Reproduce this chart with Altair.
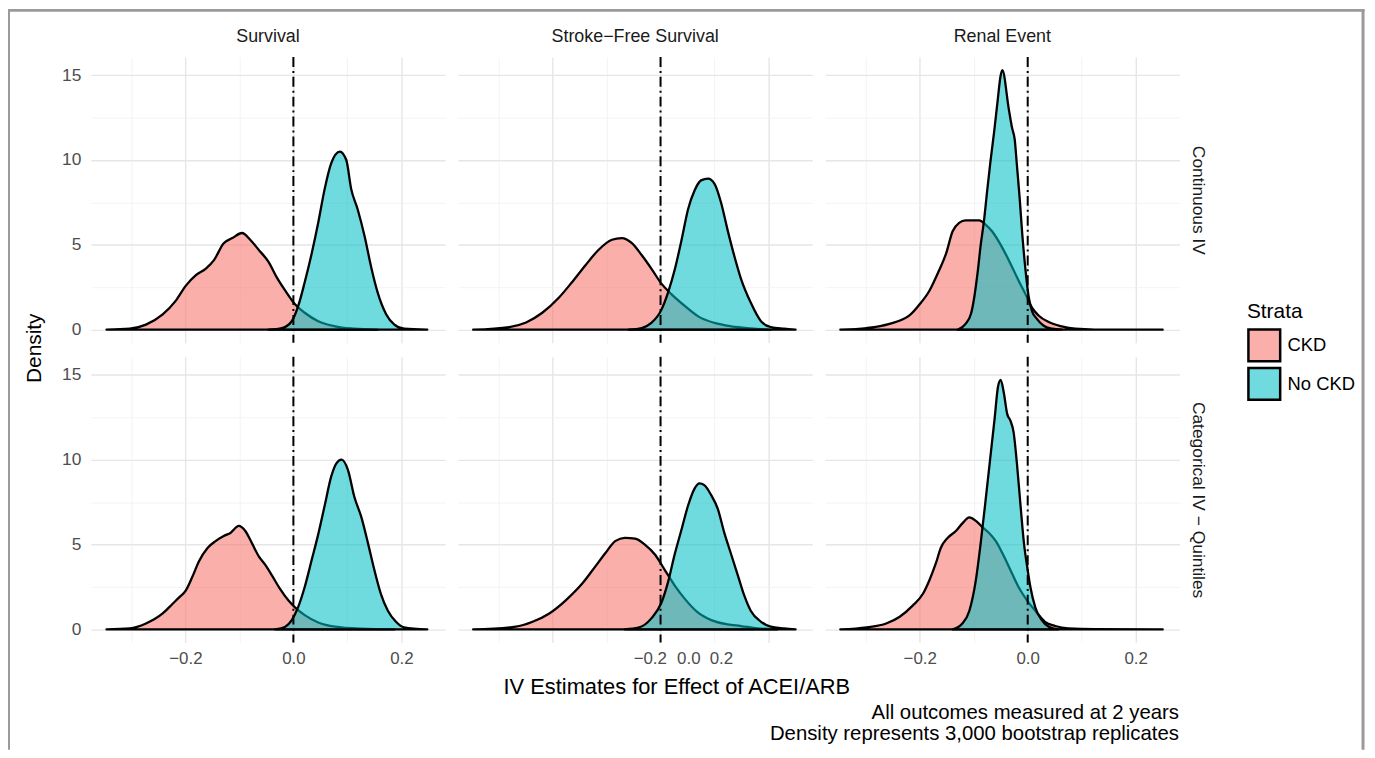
import altair as alt
import pandas as pd

# ---------------- data ----------------
OUTCOMES = ["Survival", "Stroke−Free Survival", "Renal Event"]
MODELS = ["Continuous IV", "Categorical IV − Quintiles"]
STRATA = ["CKD", "No CKD"]
STRATA_COLORS = ["rgba(248,118,109,0.58)", "rgba(0,191,196,0.56)"]

X_TICKS = [-0.3, -0.2, -0.1, 0.0, 0.1, 0.2]
Y_TICKS = [0, 2.5, 5, 7.5, 10, 12.5, 15]
X_DOMAIN = [-0.375, 0.281]
Y_DOMAIN = [-0.77, 16.07]
REF_LINE = [0.0]
X_TITLE = "IV Estimates for Effect of ACEI/ARB"
Y_TITLE = "Density"
LEGEND_TITLE = "Strata"
CAPTION = ["All outcomes measured at 2 years",
           "Density represents 3,000 bootstrap replicates"]

# Survival, Continuous IV
SURV_CONT_CKD_X = [-0.346, -0.303, -0.273, -0.242, -0.218, -0.199, -0.181, -0.162, -0.147, -0.129, -0.113, -0.095,
                   -0.080, -0.064, -0.046, -0.031, -0.015, 0.003, 0.021, 0.046, 0.077, 0.113, 0.156]
SURV_CONT_CKD_Y = [0, 0.06, 0.3, 0.9, 1.7, 2.6, 3.2, 3.6, 4.1, 5.1, 5.4, 5.7,
                   5.3, 4.7, 4.0, 3.1, 2.3, 1.5, 1.0, 0.5, 0.2, 0.06, 0]
SURV_CONT_NO_X = [-0.046, -0.021, -0.003, 0.009, 0.021, 0.034, 0.046, 0.058, 0.070, 0.086, 0.098, 0.107,
                  0.119, 0.132, 0.144, 0.156, 0.172, 0.187, 0.205, 0.248]
SURV_CONT_NO_Y = [0, 0.1, 0.5, 1.4, 2.8, 4.5, 6.3, 8.3, 9.8, 10.5, 10.0, 8.3,
                  7.1, 5.5, 3.7, 2.2, 0.9, 0.3, 0.06, 0]

# Stroke-Free Survival, Continuous IV
STRK_CONT_CKD_X = [-0.347, -0.280, -0.249, -0.219, -0.188, -0.164, -0.139, -0.115, -0.090, -0.072, -0.053,
                   -0.035, -0.017, 0.002, 0.020, 0.045, 0.069, 0.100, 0.131, 0.167, 0.204]
STRK_CONT_CKD_Y = [0, 0.16, 0.43, 1.0, 1.9, 2.8, 3.8, 4.7, 5.3, 5.4, 5.1,
                   4.4, 3.6, 2.7, 2.1, 1.4, 0.8, 0.4, 0.2, 0.08, 0]
STRK_CONT_NO_X = [-0.059, -0.035, -0.017, 0.002, 0.014, 0.026, 0.039, 0.051, 0.063, 0.075, 0.088,
                  0.100, 0.112, 0.124, 0.137, 0.149, 0.167, 0.186, 0.204, 0.229, 0.250]
STRK_CONT_NO_Y = [0, 0.1, 0.4, 1.2, 2.2, 3.5, 5.3, 7.1, 8.2, 8.8, 8.9,
                  8.6, 7.5, 5.9, 4.3, 3.0, 1.6, 0.5, 0.16, 0.06, 0]

# Renal Event, Continuous IV
RENAL_CONT_CKD_X = [-0.347, -0.298, -0.256, -0.219, -0.200, -0.182, -0.164, -0.151, -0.139, -0.127, -0.115,
                    -0.090, -0.078, -0.066, -0.050, -0.035, -0.017, -0.001, 0.008, 0.020, 0.039, 0.063,
                    0.088, 0.124, 0.250]
RENAL_CONT_CKD_Y = [0, 0.1, 0.35, 0.84, 1.5, 2.3, 3.5, 4.5, 5.8, 6.3, 6.45,
                    6.45, 6.2, 5.8, 5.0, 4.1, 2.9, 1.9, 1.3, 0.84, 0.45, 0.2,
                    0.06, 0.01, 0]
RENAL_CONT_NO_X = [-0.130, -0.115, -0.105, -0.099, -0.093, -0.087, -0.081, -0.075, -0.069, -0.062, -0.056,
                   -0.050, -0.047, -0.035, -0.029, -0.024, -0.020, -0.015, -0.010, -0.004, 0.002, 0.008,
                   0.017, 0.029, 0.045, 0.063]
RENAL_CONT_NO_Y = [0, 0.35, 0.94, 1.9, 3.3, 5.0, 6.4, 8.2, 9.9, 11.7, 13.4,
                   15.0, 15.3, 13.0, 11.9, 11.2, 9.7, 7.8, 5.6, 3.5, 1.9, 1.1,
                   0.64, 0.25, 0.06, 0]

# Survival, Categorical IV - Quintiles
SURV_CAT_CKD_X = [-0.346, -0.303, -0.273, -0.242, -0.224, -0.211, -0.199, -0.187, -0.175, -0.159, -0.144,
                  -0.129, -0.116, -0.101, -0.089, -0.077, -0.064, -0.052, -0.040, -0.025, -0.009, 0.003,
                  0.021, 0.046, 0.077, 0.126, 0.187]
SURV_CAT_CKD_Y = [0, 0.06, 0.35, 0.94, 1.5, 1.9, 2.3, 3.1, 4.0, 4.8, 5.2,
                  5.5, 5.7, 6.1, 5.8, 5.1, 4.3, 3.8, 3.2, 2.4, 1.7, 1.3,
                  0.84, 0.41, 0.16, 0.04, 0]
SURV_CAT_NO_X = [-0.034, -0.015, -0.003, 0.009, 0.021, 0.034, 0.046, 0.058, 0.070, 0.080, 0.089,
                 0.101, 0.113, 0.126, 0.138, 0.150, 0.162, 0.175, 0.190, 0.205, 0.248]
SURV_CAT_NO_Y = [0, 0.16, 0.55, 1.33, 2.5, 4.1, 5.6, 7.3, 9.0, 9.8, 10.0,
                 9.4, 7.8, 6.6, 5.1, 3.5, 2.1, 1.1, 0.45, 0.12, 0]

# Stroke-Free Survival, Categorical IV - Quintiles
STRK_CAT_CKD_X = [-0.347, -0.268, -0.237, -0.206, -0.176, -0.145, -0.121, -0.102, -0.084, -0.066, -0.047,
                  -0.029, -0.010, 0.008, 0.026, 0.045, 0.069, 0.094, 0.124, 0.149, 0.180, 0.216]
STRK_CAT_CKD_Y = [0, 0.16, 0.45, 0.94, 1.7, 2.7, 3.7, 4.5, 5.2, 5.4, 5.35,
                  5.0, 4.4, 3.5, 2.6, 1.8, 1.0, 0.55, 0.3, 0.2, 0.06, 0]
STRK_CAT_NO_X = [-0.066, -0.041, -0.017, 0.002, 0.014, 0.026, 0.039, 0.051, 0.063, 0.072, 0.081,
                 0.094, 0.106, 0.118, 0.131, 0.143, 0.155, 0.167, 0.186, 0.204, 0.229, 0.250]
STRK_CAT_NO_Y = [0, 0.1, 0.65, 1.6, 2.8, 4.4, 5.9, 7.3, 8.3, 8.6, 8.5,
                 7.9, 7.1, 5.7, 4.4, 3.2, 2.0, 1.1, 0.45, 0.16, 0.06, 0]

# Renal Event, Categorical IV - Quintiles
RENAL_CAT_CKD_X = [-0.347, -0.298, -0.262, -0.237, -0.213, -0.194, -0.182, -0.170, -0.161, -0.148, -0.133,
                   -0.121, -0.108, -0.096, -0.083, -0.072, -0.059, -0.047, -0.032, -0.017, -0.001, 0.014,
                   0.032, 0.051, 0.075, 0.124, 0.250]
RENAL_CAT_CKD_Y = [0, 0.12, 0.35, 0.75, 1.4, 2.1, 2.9, 3.9, 4.8, 5.4, 5.8,
                   6.25, 6.6, 6.4, 6.0, 5.7, 5.2, 4.5, 3.5, 2.5, 1.7, 1.1,
                   0.45, 0.2, 0.06, 0.01, 0]
RENAL_CAT_NO_X = [-0.139, -0.121, -0.108, -0.096, -0.087, -0.078, -0.069, -0.061, -0.055, -0.050, -0.044,
                  -0.038, -0.032, -0.026, -0.020, -0.013, -0.007, -0.001, 0.005, 0.014, 0.026, 0.039, 0.057]
RENAL_CAT_NO_Y = [0, 0.35, 1.1, 2.9, 5.1, 7.6, 10.2, 12.5, 14.3, 14.7, 13.9,
                  12.7, 12.3, 11.6, 9.8, 7.2, 5.1, 3.7, 2.5, 1.3, 0.55, 0.16, 0]

CURVES = {
    (OUTCOMES[0], MODELS[0], STRATA[0]): (SURV_CONT_CKD_X, SURV_CONT_CKD_Y),
    (OUTCOMES[0], MODELS[0], STRATA[1]): (SURV_CONT_NO_X, SURV_CONT_NO_Y),
    (OUTCOMES[1], MODELS[0], STRATA[0]): (STRK_CONT_CKD_X, STRK_CONT_CKD_Y),
    (OUTCOMES[1], MODELS[0], STRATA[1]): (STRK_CONT_NO_X, STRK_CONT_NO_Y),
    (OUTCOMES[2], MODELS[0], STRATA[0]): (RENAL_CONT_CKD_X, RENAL_CONT_CKD_Y),
    (OUTCOMES[2], MODELS[0], STRATA[1]): (RENAL_CONT_NO_X, RENAL_CONT_NO_Y),
    (OUTCOMES[0], MODELS[1], STRATA[0]): (SURV_CAT_CKD_X, SURV_CAT_CKD_Y),
    (OUTCOMES[0], MODELS[1], STRATA[1]): (SURV_CAT_NO_X, SURV_CAT_NO_Y),
    (OUTCOMES[1], MODELS[1], STRATA[0]): (STRK_CAT_CKD_X, STRK_CAT_CKD_Y),
    (OUTCOMES[1], MODELS[1], STRATA[1]): (STRK_CAT_NO_X, STRK_CAT_NO_Y),
    (OUTCOMES[2], MODELS[1], STRATA[0]): (RENAL_CAT_CKD_X, RENAL_CAT_CKD_Y),
    (OUTCOMES[2], MODELS[1], STRATA[1]): (RENAL_CAT_NO_X, RENAL_CAT_NO_Y),
}

rows = []
for (o, m, s), (xs, ys) in CURVES.items():
    for xv, yv in zip(xs, ys):
        rows.append({"outcome": o, "model": m, "strata": s, "x": xv, "density": yv})
df = pd.DataFrame(rows)
ref_df = pd.DataFrame({"x": REF_LINE})

# ---------------- styling ----------------
FONT = "Liberation Sans"
W, H = 357, 288
GRID_MAJOR = "#E6E6E6"
GRID_MINOR = "#F0F0F0"
FRAME = "#9A9A9A"
X_MAJOR_TEST = "abs(datum.value) < 0.001 || abs(abs(datum.value) - 0.2) < 0.001"
Y_MAJOR_TEST = "datum.value % 5 === 0"

LEGEND = alt.Legend(
    orient="none", legendX=1165, legendY=246,
    title=LEGEND_TITLE, titleFontSize=21, titleFontWeight="normal", titleColor="black", titleFont=FONT,
    titlePadding=6, labelFontSize=18.5, labelColor="black", labelFont=FONT, labelOffset=6,
    symbolType="square", symbolSize=1024, symbolStrokeColor="black", symbolStrokeWidth=2.5,
    symbolOpacity=1, rowPadding=-7,
)


def x_axis(ci, ri):
    bottom = ri == 1
    kw = dict(
        values=X_TICKS, domain=False, ticks=False, tickSize=0, grid=True,
        gridColor={"condition": {"test": X_MAJOR_TEST, "value": GRID_MAJOR}, "value": GRID_MINOR},
        gridWidth={"condition": {"test": X_MAJOR_TEST, "value": 1.4}, "value": 0.8},
        labels=bottom, format=".1f",
        labelExpr="(" + X_MAJOR_TEST + ") ? datum.label : ''",
        labelFontSize=17, labelColor="#4D4D4D", labelFont=FONT, labelPadding=8,
        labelOverlap=False, labelFlush=False, title=None,
    )
    if bottom and ci == 1:
        kw["labelOffset"] = {"condition": [{"test": "datum.value < -0.1", "value": 98},
                                           {"test": "datum.value > 0.1", "value": -48}],
                             "value": 28}
        kw.update(title=X_TITLE, titleX=220, titleY=51, titleAlign="center", titleBaseline="alphabetic",
                  titleFontSize=22, titleFontWeight="normal", titleColor="black", titleFont=FONT)
    if bottom and ci == 2:
        kw.update(title=CAPTION, titleX=356, titleY=77, titleAlign="right", titleBaseline="alphabetic",
                  titleFontSize=20.5, titleLineHeight=21, titleFontWeight="normal", titleColor="black",
                  titleFont=FONT)
    return alt.Axis(**kw)


def y_axis(ci, ri):
    kw = dict(
        values=Y_TICKS, domain=False, ticks=False, tickSize=0, grid=True,
        gridColor={"condition": {"test": Y_MAJOR_TEST, "value": GRID_MAJOR}, "value": GRID_MINOR},
        gridWidth={"condition": {"test": Y_MAJOR_TEST, "value": 1.4}, "value": 0.8},
        labels=ci == 0,
        labelExpr="(" + Y_MAJOR_TEST + ") ? format(datum.value, 'd') : ''",
        labelFontSize=17.5, labelColor="#4D4D4D", labelFont=FONT, labelPadding=10,
        labelOverlap=False, labelFlush=False, title=None,
    )
    if ci == 0 and ri == 1:
        kw.update(title=Y_TITLE, titleX=-51, titleY=-9, titleAngle=270, titleAlign="center",
                  titleBaseline="alphabetic", titleFontSize=21, titleFontWeight="normal",
                  titleColor="black", titleFont=FONT)
    if ci == 2:
        kw.update(orient="right", title=MODELS[ri], titleX=13, titleY=H / 2, titleAngle=90,
                  titleAlign="center", titleBaseline="alphabetic", titleFontSize=17.5,
                  titleFontWeight="normal", titleColor="#1A1A1A", titleFont=FONT)
    return alt.Axis(**kw)


def panel(ci, ri):
    outcome, model = OUTCOMES[ci], MODELS[ri]
    xenc = alt.X("x:Q", scale=alt.Scale(domain=X_DOMAIN, nice=False, zero=False), axis=x_axis(ci, ri), title=None)
    yenc = alt.Y("density:Q", scale=alt.Scale(domain=Y_DOMAIN, nice=False, zero=False), axis=y_axis(ci, ri),
                 stack=None, title=None)
    color = alt.Color("strata:N", scale=alt.Scale(domain=STRATA, range=STRATA_COLORS), legend=LEGEND)

    base = alt.Chart(df).transform_filter(
        (alt.datum.outcome == outcome) & (alt.datum.model == model))
    layers = []
    for s in STRATA:
        layers.append(
            base.transform_filter(alt.datum.strata == s)
            .mark_area(stroke="black", strokeWidth=2.3, interpolate="monotone", strokeJoin="round")
            .encode(x=xenc, y=yenc, color=color)
        )
    layers.append(
        alt.Chart(ref_df).mark_rule(color="black", strokeWidth=2, strokeDash=[10, 4, 2, 4])
        .encode(x=xenc)
    )
    if ci == 0 and ri == 1:
        # outer figure frame (left, top, right edges)
        frame_kw = dict(color=FRAME, strokeWidth=3, clip=False)
        layers.append(alt.Chart(ref_df).mark_rule(**frame_kw).encode(
            x=alt.value(-83), y=alt.value(-350.5), y2=alt.value(396)))
        layers.append(alt.Chart(ref_df).mark_rule(**frame_kw).encode(
            x=alt.value(-84.5), x2=alt.value(1283.5), y=alt.value(-349)))
        layers.append(alt.Chart(ref_df).mark_rule(**frame_kw).encode(
            x=alt.value(1282), y=alt.value(-350.5), y2=alt.value(396)))

    props = dict(width=W, height=H)
    if ri == 0:
        props["title"] = alt.TitleParams(text=outcome, fontSize=18, fontWeight="normal", color="#1A1A1A",
                                         font=FONT, anchor="middle", baseline="alphabetic", offset=-4,
                                         frame="group")
    return alt.layer(*layers).properties(**props)


panels = [panel(ci, ri) for ri in range(2) for ci in range(3)]

chart = (
    alt.concat(*panels, columns=3, spacing={"row": 14, "column": 13}, bounds="flush")
    .properties(padding={"left": -3.5, "top": -4.5, "right": 0, "bottom": 0}, background="white")
    .configure(font=FONT)
    .configure_view(stroke="transparent")
)

chart.save("out.html", embed_options={"renderer": "svg", "actions": False})
